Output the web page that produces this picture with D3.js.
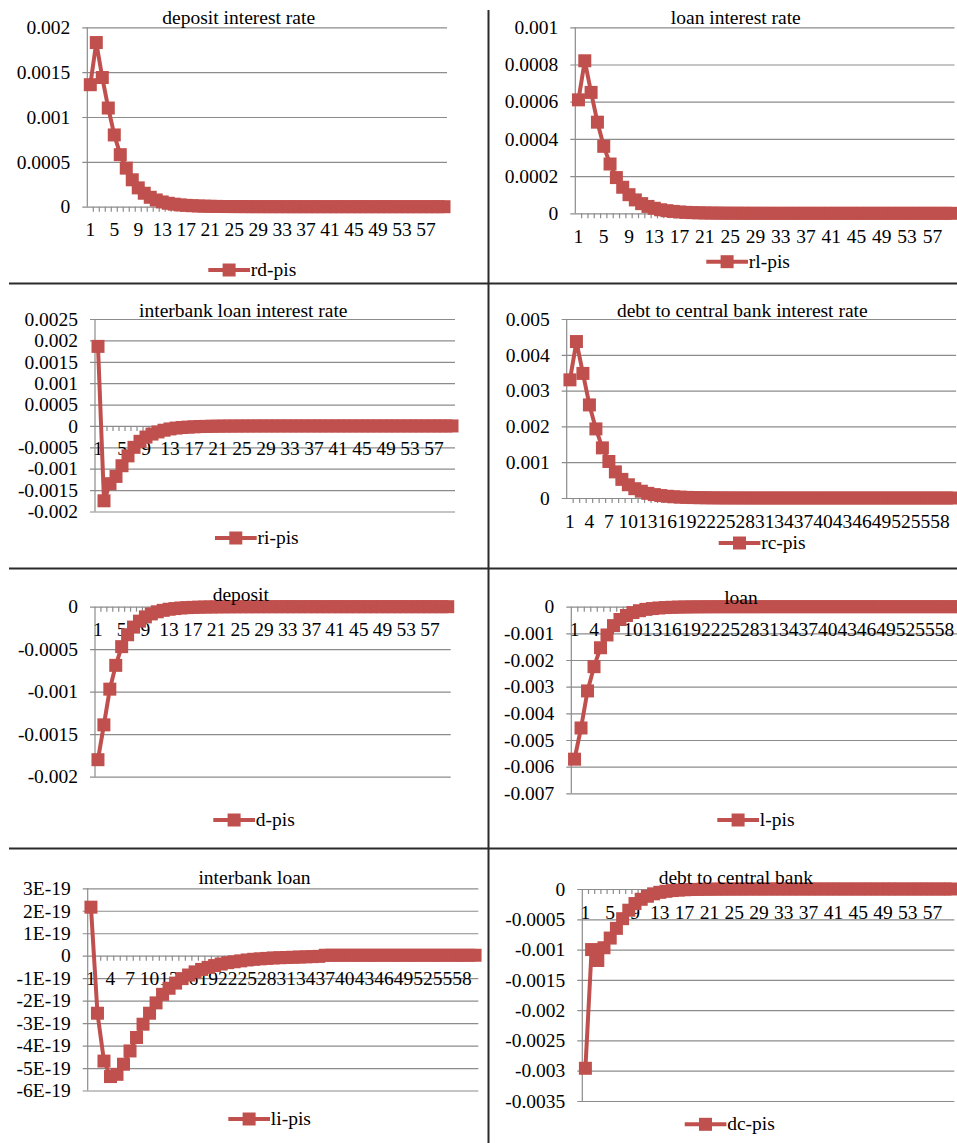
<!DOCTYPE html>
<meta charset="utf-8">
<head>
    <style>
        body { margin: 0; background: #fff; }
        svg text { font-family: "Liberation Serif", "Times New Roman", serif; font-size: 19.5px; fill: #000; }
        .grid line { stroke: #8c8c8c; stroke-width: 1.2; }
        .sep { stroke: #2b2b2b; stroke-width: 2; }
    </style>
    <script src="https://d3js.org/d3.v7.min.js"></script>
</head>
<body>
<script>

    // periods 1..60
    var categories = [1, 2, 3, 4, 5, 6, 7, 8, 9, 10, 11, 12, 13, 14, 15, 16, 17, 18, 19, 20,
        21, 22, 23, 24, 25, 26, 27, 28, 29, 30, 31, 32, 33, 34, 35, 36, 37, 38, 39, 40,
        41, 42, 43, 44, 45, 46, 47, 48, 49, 50, 51, 52, 53, 54, 55, 56, 57, 58, 59, 60];

    var xLabelsBy4 = [1, 5, 9, 13, 17, 21, 25, 29, 33, 37, 41, 45, 49, 53, 57];
    var xLabelsBy3 = [1, 4, 7, 10, 13, 16, 19, 22, 25, 28, 31, 34, 37, 40, 43, 46, 49, 52, 55, 58];

    // y tick values
    var ticksRd = [0, 0.0005, 0.001, 0.0015, 0.002];
    var ticksRl = [0, 0.0002, 0.0004, 0.0006, 0.0008, 0.001];
    var ticksRi = [-0.002, -0.0015, -0.001, -0.0005, 0, 0.0005, 0.001, 0.0015, 0.002, 0.0025];
    var ticksRc = [0, 0.001, 0.002, 0.003, 0.004, 0.005];
    var ticksD = [-0.002, -0.0015, -0.001, -0.0005, 0];
    var ticksL = [-0.007, -0.006, -0.005, -0.004, -0.003, -0.002, -0.001, 0];
    var ticksLi = [-6e-19, -5e-19, -4e-19, -3e-19, -2e-19, -1e-19, 0, 1e-19, 2e-19, 3e-19];
    var ticksDc = [-0.0035, -0.003, -0.0025, -0.002, -0.0015, -0.001, -0.0005, 0];

    // impulse responses
    var rdPis = [0.00136, 0.00183, 0.00144, 0.0011, 0.0008, 0.00058, 0.00043, 0.0003, 0.00021, 0.00015,
        0.000105, 0.000075, 0.000053, 0.000038, 0.000028, 0.00002, 0.000015, 0.000011, 0.000008, 0.000006,
        0.0000045, 0.0000033, 0.0000024, 0.0000018, 0.0000013, 0.000001, 0.0000007, 0.0000005, 0.0000004, 0.0000003,
        0.0000002, 0.0000002, 0.0000001, 0.0000001, 0.0000001, 0, 0, 0, 0, 0,
        0, 0, 0, 0, 0, 0, 0, 0, 0, 0,
        0, 0, 0, 0, 0, 0, 0, 0, 0, 0];

    var rlPis = [0.00061, 0.00082, 0.00065, 0.00049, 0.00036, 0.000265, 0.000192, 0.00014, 0.0001, 0.000072,
        0.000052, 0.000037, 0.000027, 0.000019, 0.000014, 0.00001, 0.000007, 0.000005, 0.0000036, 0.0000026,
        0.0000019, 0.0000013, 0.000001, 0.0000007, 0.0000005, 0.0000004, 0.0000003, 0.0000002, 0.0000001, 0.0000001,
        0, 0, 0, 0, 0, 0, 0, 0, 0, 0,
        0, 0, 0, 0, 0, 0, 0, 0, 0, 0,
        0, 0, 0, 0, 0, 0, 0, 0, 0, 0];

    var riPis = [0.00186, -0.00175, -0.00135, -0.00118, -0.00093, -0.0007, -0.0005, -0.00036, -0.00026, -0.00019,
        -0.00014, -0.0001, -0.00007, -0.00005, -0.000037, -0.000027, -0.00002, -0.000014, -0.00001, -0.000007,
        -0.000005, -0.0000036, -0.0000026, -0.0000019, -0.0000013, -0.000001, -0.0000007, -0.0000005, -0.0000004, -0.0000003,
        -0.0000002, -0.0000001, -0.0000001, 0, 0, 0, 0, 0, 0, 0,
        0, 0, 0, 0, 0, 0, 0, 0, 0, 0,
        0, 0, 0, 0, 0, 0, 0, 0, 0, 0];

    var rcPis = [0.0033, 0.00437, 0.00348, 0.0026, 0.00193, 0.0014, 0.00102, 0.00073, 0.00052, 0.00037,
        0.00026, 0.00019, 0.00013, 0.000095, 0.000068, 0.000048, 0.000034, 0.000024, 0.000017, 0.000012,
        0.0000087, 0.0000062, 0.0000044, 0.0000031, 0.0000022, 0.0000016, 0.0000011, 0.0000008, 0.0000006, 0.0000004,
        0.0000003, 0.0000002, 0.0000001, 0.0000001, 0, 0, 0, 0, 0, 0,
        0, 0, 0, 0, 0, 0, 0, 0, 0, 0,
        0, 0, 0, 0, 0, 0, 0, 0, 0, 0];

    var dPis = [-0.0018, -0.00139, -0.00097, -0.00069, -0.00047, -0.00033, -0.00024, -0.00017, -0.00012, -0.000085,
        -0.00006, -0.000043, -0.00003, -0.000022, -0.000015, -0.000011, -0.000008, -0.0000055, -0.000004, -0.0000028,
        -0.000002, -0.0000014, -0.000001, -0.0000007, -0.0000005, -0.0000004, -0.0000003, -0.0000002, -0.0000001, -0.0000001,
        0, 0, 0, 0, 0, 0, 0, 0, 0, 0,
        0, 0, 0, 0, 0, 0, 0, 0, 0, 0,
        0, 0, 0, 0, 0, 0, 0, 0, 0, 0];

    var lPis = [-0.00572, -0.00455, -0.00316, -0.00225, -0.00154, -0.00106, -0.00071, -0.00048, -0.00033, -0.00022,
        -0.00015, -0.0001, -0.00007, -0.000047, -0.000032, -0.000022, -0.000015, -0.00001, -0.000007, -0.0000047,
        -0.0000032, -0.0000022, -0.0000015, -0.000001, -0.0000007, -0.0000005, -0.0000003, -0.0000002, -0.0000001, -0.0000001,
        0, 0, 0, 0, 0, 0, 0, 0, 0, 0,
        0, 0, 0, 0, 0, 0, 0, 0, 0, 0,
        0, 0, 0, 0, 0, 0, 0, 0, 0, 0];

    var liPis = [2.16e-19, -2.56e-19, -4.69e-19, -5.38e-19, -5.28e-19, -4.83e-19, -4.24e-19, -3.64e-19, -3.05e-19, -2.56e-19,
        -2.1e-19, -1.72e-19, -1.45e-19, -1.22e-19, -1.02e-19, -0.86e-19, -0.72e-19, -0.61e-19, -0.52e-19, -0.44e-19,
        -0.37e-19, -0.31e-19, -0.27e-19, -0.23e-19, -0.19e-19, -0.16e-19, -0.14e-19, -0.12e-19, -0.1e-19, -0.09e-19,
        -0.08e-19, -0.07e-19, -0.06e-19, -0.05e-19, -0.04e-19, -0.03e-19, 0.02e-19, 0.02e-19, 0.02e-19, 0.02e-19,
        0.02e-19, 0.02e-19, 0.02e-19, 0.02e-19, 0.02e-19, 0.02e-19, 0.02e-19, 0.02e-19, 0.02e-19, 0.02e-19,
        0.02e-19, 0.02e-19, 0.02e-19, 0.02e-19, 0.02e-19, 0.02e-19, 0.02e-19, 0.02e-19, 0.02e-19, 0.02e-19];

    var dcPis = [-0.00296, -0.001, -0.00118, -0.00097, -0.00081, -0.00065, -0.00049, -0.00035, -0.00024, -0.00017,
        -0.00012, -0.00008, -0.000055, -0.000038, -0.000026, -0.000018, -0.000012, -0.0000085, -0.000006, -0.000004,
        -0.0000028, -0.000002, -0.0000014, -0.000001, -0.0000007, -0.0000005, -0.0000003, -0.0000002, -0.0000001, -0.0000001,
        0, 0, 0, 0, 0, 0, 0, 0, 0, 0,
        0, 0, 0, 0, 0, 0, 0, 0, 0, 0,
        0, 0, 0, 0, 0, 0, 0, 0, 0, 0];

    var color = "#C0504D";

    // layout of each small chart (pixels)
    var panels = [
        {title: "deposit interest rate", name: "rd-pis", values: rdPis, ticks: ticksRd, labels: xLabelsBy4,
            x0: 87.3, x1: 447, yTop: 27.3, yBot: 206.7, tx: 238.7, ty: 24.3, lx: 208.3, ly: 270},
        {title: "loan interest rate", name: "rl-pis", values: rlPis, ticks: ticksRl, labels: xLabelsBy4,
            x0: 575.3, x1: 954.5, yTop: 27.3, yBot: 213.3, tx: 735.8, ty: 24, lx: 706.3, ly: 261.7},
        {title: "interbank loan interest rate", name: "ri-pis", values: riPis, ticks: ticksRi, labels: xLabelsBy4,
            x0: 95, x1: 455, yTop: 319, yBot: 511.5, tx: 243.3, ty: 317.3, lx: 215, ly: 538},
        {title: "debt to central bank interest rate", name: "rc-pis", values: rcPis, ticks: ticksRc, labels: xLabelsBy3,
            x0: 566.7, x1: 956.1, yTop: 319, yBot: 498, tx: 742.3, ty: 317.3, lx: 718.7, ly: 543},
        {title: "deposit", name: "d-pis", values: dPis, ticks: ticksD, labels: xLabelsBy4,
            x0: 95, x1: 450.7, yTop: 606.7, yBot: 776.7, tx: 240.8, ty: 601, lx: 213.3, ly: 820},
        {title: "loan", name: "l-pis", values: lPis, ticks: ticksL, labels: xLabelsBy3,
            x0: 571.3, x1: 960.7, yTop: 606.7, yBot: 793.3, tx: 741, ty: 604.3, lx: 717.3, ly: 820},
        {title: "interbank loan", name: "li-pis", values: liPis, ticks: ticksLi, labels: xLabelsBy3,
            x0: 87.7, x1: 478.3, yTop: 888.3, yBot: 1090.5, tx: 254.5, ty: 884.3, lx: 228.3, ly: 1119},
        {title: "debt to central bank", name: "dc-pis", values: dcPis, ticks: ticksDc, labels: xLabelsBy4,
            x0: 582.3, x1: 954.3, yTop: 889, yBot: 1101, tx: 735.8, ty: 884.3, lx: 684.7, ly: 1124.3}
    ];

    var svg = d3.select("body").append("svg")
        .attr("width", 957)
        .attr("height", 1143);

    var fmt = function (d) { return String(d).toUpperCase(); };
    var box = 13;

    panels.forEach(function (p) {
        var g = svg.append("g");

        var x = d3.scaleBand().domain(categories).range([p.x0, p.x1]);
        var y = d3.scaleLinear()
            .domain([d3.min(p.ticks), d3.max(p.ticks)])
            .range([p.yBot, p.yTop]);
        var cx = function (c) { return x(c) + x.bandwidth() / 2; };

        // gridlines + y labels
        var yAxis = g.append("g")
            .attr("class", "grid")
            .attr("transform", "translate(" + (p.x0 - 5) + ",0)")
            .call(d3.axisLeft(y)
                .tickValues(p.ticks)
                .tickFormat(fmt)
                .tickSize(-(p.x1 - p.x0 + 5))
                .tickPadding(12));
        yAxis.select(".domain").remove();
        yAxis.selectAll("text").style("font-size", null).style("font-family", null)
            .attr("font-size", null).attr("font-family", null);

        // vertical axis line
        g.append("line")
            .attr("x1", p.x0).attr("x2", p.x0)
            .attr("y1", p.yTop).attr("y2", p.yBot)
            .attr("stroke", "#8c8c8c").attr("stroke-width", 1.2);

        var y0 = y(0);

        // small tick marks between categories
        g.append("g").selectAll("line")
            .data(categories.slice(1))
            .enter().append("line")
            .attr("x1", function (c) { return x(c); })
            .attr("x2", function (c) { return x(c); })
            .attr("y1", y0).attr("y2", y0 + 5)
            .attr("stroke", "#8c8c8c").attr("stroke-width", 1.2);

        // category labels
        var xAxis = g.append("g")
            .attr("transform", "translate(0," + y0 + ")")
            .call(d3.axisBottom(x).tickValues(p.labels).tickSize(0));
        xAxis.select(".domain").remove();
        xAxis.selectAll("text").attr("y", 29.5).attr("dy", null)
            .attr("font-size", null).attr("font-family", null);
        xAxis.attr("font-size", null).attr("font-family", null);
        yAxis.attr("font-size", null).attr("font-family", null);

        // series
        var line = d3.line()
            .x(function (d, i) { return cx(categories[i]); })
            .y(function (d) { return y(d); });

        g.append("path")
            .datum(p.values)
            .attr("fill", "none")
            .attr("stroke", color)
            .attr("stroke-width", 4)
            .attr("stroke-linejoin", "round")
            .attr("d", line);

        g.append("g").selectAll("rect")
            .data(p.values)
            .enter().append("rect")
            .attr("x", function (d, i) { return cx(categories[i]) - box / 2; })
            .attr("y", function (d) { return y(d) - box / 2; })
            .attr("width", box).attr("height", box)
            .attr("fill", color);

        // legend
        g.append("line")
            .attr("x1", p.lx).attr("x2", p.lx + 41.7)
            .attr("y1", p.ly).attr("y2", p.ly)
            .attr("stroke", color).attr("stroke-width", 4);
        g.append("rect")
            .attr("x", p.lx + 20.8 - box / 2).attr("y", p.ly - box / 2)
            .attr("width", box).attr("height", box)
            .attr("fill", color);
        g.append("text")
            .attr("x", p.lx + 42.5).attr("y", p.ly).attr("dy", "0.3em")
            .text(p.name);

        // title
        g.append("text")
            .attr("x", p.tx).attr("y", p.ty)
            .attr("text-anchor", "middle")
            .text(p.title);
    });

    // frame lines between the charts
    [283.5, 568.5, 848.5].forEach(function (yy) {
        svg.append("line").attr("class", "sep")
            .attr("x1", 9).attr("x2", 957).attr("y1", yy).attr("y2", yy);
    });
    svg.append("line").attr("class", "sep")
        .attr("x1", 488.5).attr("x2", 488.5).attr("y1", 10).attr("y2", 1143);

</script>
</body>
</html>
